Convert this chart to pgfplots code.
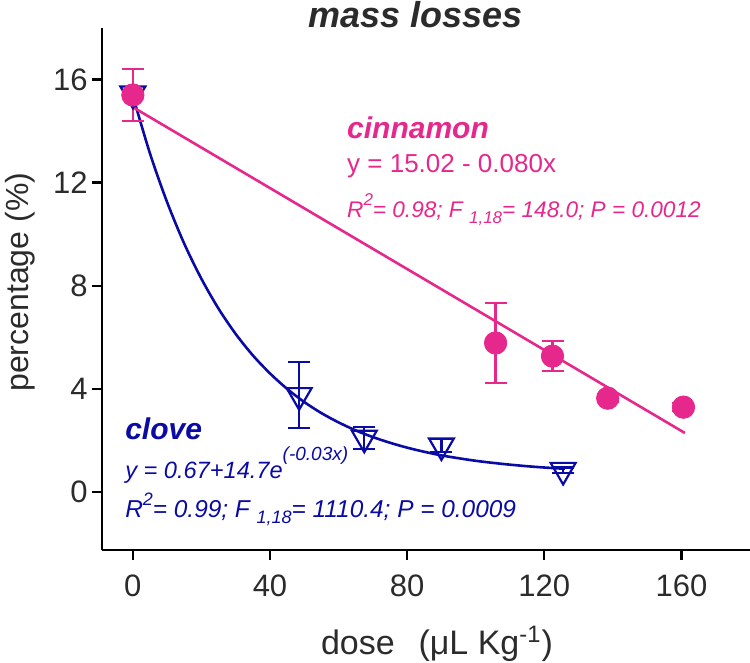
\documentclass[border=0pt]{standalone}
\usepackage{fontspec}
\setmainfont{Liberation Sans}
\usepackage{pgfplots}
\usepackage{pgfplotstable}
\pgfplotsset{compat=1.18}
\definecolor{cin}{HTML}{E6288C}
\definecolor{clo}{HTML}{0A0AA5}
\definecolor{txt}{HTML}{2B2B2B}

\pgfplotstableread{
x y e
0 15.45 0.12
48.5 3.75 1.28
67.5 2.1 0.43
90 1.8 0.25
125.5 0.85 0.1
}\clovedata

\pgfplotstableread{
x y e
0 15.4 1.02
105.8 5.78 1.55
122.4 5.27 0.58
138.5 3.64 0.15
160.6 3.29 0.15
}\cinnamondata

\begin{document}
\begin{tikzpicture}
\path[use as bounding box] (-51pt,-56.5pt) rectangle (324pt,275pt);
\begin{axis}[
  at={(0,0)}, anchor=south west,
  scale only axis, width=324pt, height=261pt,
  xmin=-9, xmax=180, ymin=-2.25, ymax=18,
  axis x line*=bottom, axis y line*=left,
  axis line style={black, line width=1.2pt, -},
  xtick={0,40,80,120,160}, ytick={0,4,8,12,16},
  tick align=outside, major tick length=5pt,
  tick style={black, line width=1.2pt},
  /pgf/number format/assume math mode=true,
  ticklabel style={font=\fontsize{15.5}{18}\selectfont, text=txt},
  xticklabel style={yshift=-4pt},
  yticklabel style={inner xsep=2pt},
  xlabel={dose\hspace{0.7em}(μL Kg\textsuperscript{-1})},
  ylabel={percentage (\%)},
  every axis x label/.style={at={(axis description cs:0.517,0)}, anchor=base, yshift=-52.5pt, font=\fontsize{17}{20}\selectfont, text=txt},
  every axis y label/.style={at={(axis description cs:-0.1265,0.513)}, rotate=90, anchor=center, font=\fontsize{16}{19}\selectfont, text=txt},
  clip=false,
]
% clove fit
\addplot[clo, line width=1.3pt, smooth] coordinates {
(0,15.37) (5,13.13) (10,11.24) (15,9.63) (20,8.27) (25,7.11) (30,6.13)
(35,5.30) (40,4.60) (45,4.00) (50,3.49) (55,3.06) (60,2.70) (65,2.39)
(70,2.13) (75,1.91) (80,1.72) (85,1.56) (90,1.42) (95,1.31) (100,1.21)
(105,1.13) (110,1.06) (115,1.00) (120,0.95) (126,0.90)};
% clove points
\addplot[clo, only marks, mark=triangle, mark size=7.2pt,
  mark options={rotate=180, line width=1.1pt},
  error bars/.cd, y dir=both, y explicit,
  error bar style={line width=1.1pt},
  error mark options={rotate=90, mark size=5.5pt, line width=1.1pt}]
  table[x=x, y=y, y error=e] {\clovedata};
% cinnamon fit
\addplot[cin, line width=1.3pt] coordinates {(0,14.93) (161,2.29)};
% cinnamon points
\addplot[cin, only marks, mark=*, mark size=5.6pt,
  mark options={fill=cin, draw=cin},
  error bars/.cd, y dir=both, y explicit,
  error bar style={line width=1.1pt},
  error mark options={rotate=90, mark size=5.5pt, line width=1.1pt}]
  table[x=x, y=y, y error=e] {\cinnamondata};

% title
\node[anchor=base, inner sep=0pt, text=txt, font=\fontsize{18}{21}\selectfont\bfseries\itshape] at (axis cs:82.5,18.02) {mass losses};

% cinnamon annotations
\node[anchor=base west, inner sep=0pt, text=cin, font=\fontsize{15}{18}\selectfont\bfseries\itshape] at (axis cs:62.4,13.72) {cinnamon};
\node[anchor=base west, inner sep=0pt, text=cin, font=\fontsize{13}{16}\selectfont] at (axis cs:62.4,12.40) {y = 15.02 - 0.080x};
\node[anchor=base west, inner sep=0pt, text=cin, font=\fontsize{11.3}{14}\selectfont\itshape] at (axis cs:62.4,10.66) {R\raisebox{6pt}{\fontsize{8.5}{10}\selectfont 2}= 0.98; F \raisebox{-3pt}{\fontsize{8.5}{10}\selectfont 1,18}= 148.0; P = 0.0012};

% clove annotations
\node[anchor=base west, inner sep=0pt, text=clo, font=\fontsize{15}{18}\selectfont\bfseries\itshape] at (axis cs:-2.33,2.02) {clove};
\node[anchor=base west, inner sep=0pt, text=clo, font=\fontsize{11.8}{14}\selectfont\itshape] at (axis cs:-2.33,0.54) {y = 0.67+14.7e\raisebox{9pt}{\fontsize{9.5}{11}\selectfont (-0.03x)}};
\node[anchor=base west, inner sep=0pt, text=clo, font=\fontsize{12.2}{15}\selectfont\itshape] at (axis cs:-2.33,-1.0) {R\raisebox{6pt}{\fontsize{9}{10}\selectfont 2}= 0.99; F \raisebox{-3pt}{\fontsize{9}{10}\selectfont 1,18}= 1110.4; P = 0.0009};
\end{axis}
\end{tikzpicture}
\end{document}
